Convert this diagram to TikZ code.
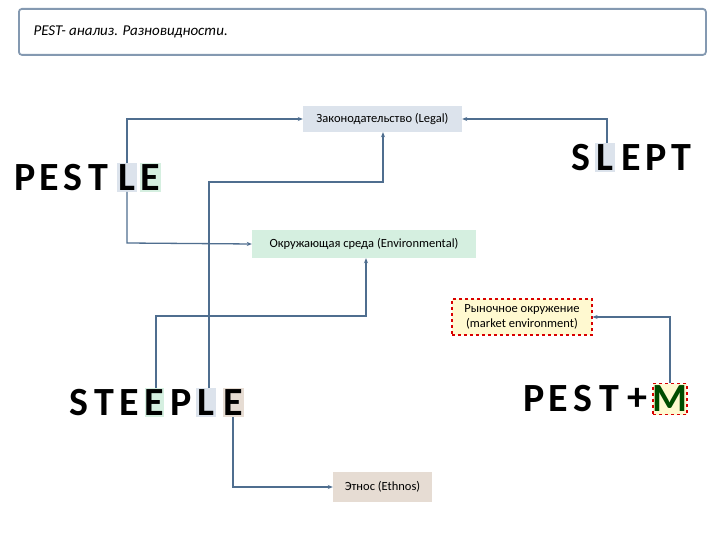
\documentclass[tikz,border=0pt]{standalone}
\usepackage{fontspec}
\setmainfont{Carlito}
\usetikzlibrary{arrows.meta}
\definecolor{ln}{HTML}{4F6E8F}
\definecolor{lg}{HTML}{DCE3EC}
\definecolor{gr}{HTML}{D5EFE0}
\definecolor{yl}{HTML}{FFF9D0}
\definecolor{br}{HTML}{E6DCD3}
\begin{document}
\begin{tikzpicture}[x=1pt,y=-1pt,
 conn/.style={draw=ln,line width=1.3pt,-{Stealth[length=5pt,width=4pt]}},
 lab/.style={font=\fontsize{12.5}{14}\selectfont,inner sep=0pt},
 big/.style={font=\fontsize{40}{40}\selectfont\bfseries,inner sep=0pt,anchor=center},
 hl/.style={inner sep=0pt}]
\useasboundingbox (0,0) rectangle (720,540);
\fill[white] (0,0) rectangle (720,540);
\node[draw=ln!70,line width=1.8pt,rounded corners=3pt,minimum width=687pt,minimum height=46pt,anchor=north west] (title) at (18,8) {};
\node[anchor=west,font=\fontsize{15}{17}\selectfont\itshape] (tt) at (30,32) {PEST- анализ. Разновидности.};
% boxes
\node[hl,fill=lg,minimum width=159pt,minimum height=26pt] (legal) at (382.5,119) {};
\node[lab] (legalt) at (legal) {Законодательство (Legal)};
\node[hl,fill=gr,minimum width=224pt,minimum height=28pt] (env) at (364,244) {};
\node[lab] (envt) at (env) {Окружающая среда (Environmental)};
\node[hl,fill=yl,draw=red!85!black,dashed,line width=1.2pt,minimum width=140pt,minimum height=36pt] (mkt) at (522,317) {};
\node[lab,align=center,font=\fontsize{12.5}{15}\selectfont] (mktt) at (mkt) {Рыночное окружение\\(market environment)};
\node[hl,fill=br,minimum width=99pt,minimum height=30pt] (eth) at (382.5,487) {};
\node[lab] (etht) at (eth) {Этнос (Ethnos)};
% highlight boxes
\fill[lg] (117,163) rectangle (137,192);
\fill[gr] (140,163) rectangle (161,192);
\fill[lg] (595,143) rectangle (615,172);
\fill[gr] (145,388) rectangle (164,417);
\fill[lg] (196,388) rectangle (216,417);
\fill[br] (223,388) rectangle (244,417);
\node[hl,fill=yl,draw=red!85!black,dashed,line width=1.2pt,minimum width=34pt,minimum height=31pt] (mbox) at (670,399) {};
% letters
\foreach \c/\x [count=\i] in {P/25,E/49,S/73,T/98,L/127,E/150}
  \node[big] (pa\i) at (\x,178) {\c};
\foreach \c/\x [count=\i] in {S/581,L/605,E/631,P/656,T/681}
  \node[big] (sa\i) at (\x,158) {\c};
\foreach \c/\x [count=\i] in {S/79,T/104,E/129,E/154,P/181,L/206,E/233}
  \node[big] (st\i) at (\x,403) {\c};
\foreach \c/\x [count=\i] in {P/534,E/558,S/583,T/609,+/637}
  \node[big] (pm\i) at (\x,399) {\c};
\node[big,text=green!30!black] (pmM) at (mbox) {M};
% connectors
\coordinate (c1) at (127,119); \coordinate (c2) at (127,243);
\draw[conn] (127,163) -- (c1) -- (legal.west);
\draw[conn] (127,192) -- (c2) -- (env.west);
\draw[conn] (607,143) -- (607,119) -- (legal.east);
\draw[conn] (209,388) -- (209,182) -- (383,182) -- (legal.south -| 383,0);
\draw[conn] (156,388) -- (156,316) -- (366,316) -- (env.south -| 366,0);
\draw[conn] (233,417) -- (233,487) -- (eth.west);
\draw[conn] (670,383) -- (670,317) -- (mkt.east);
\end{tikzpicture}
\end{document}
